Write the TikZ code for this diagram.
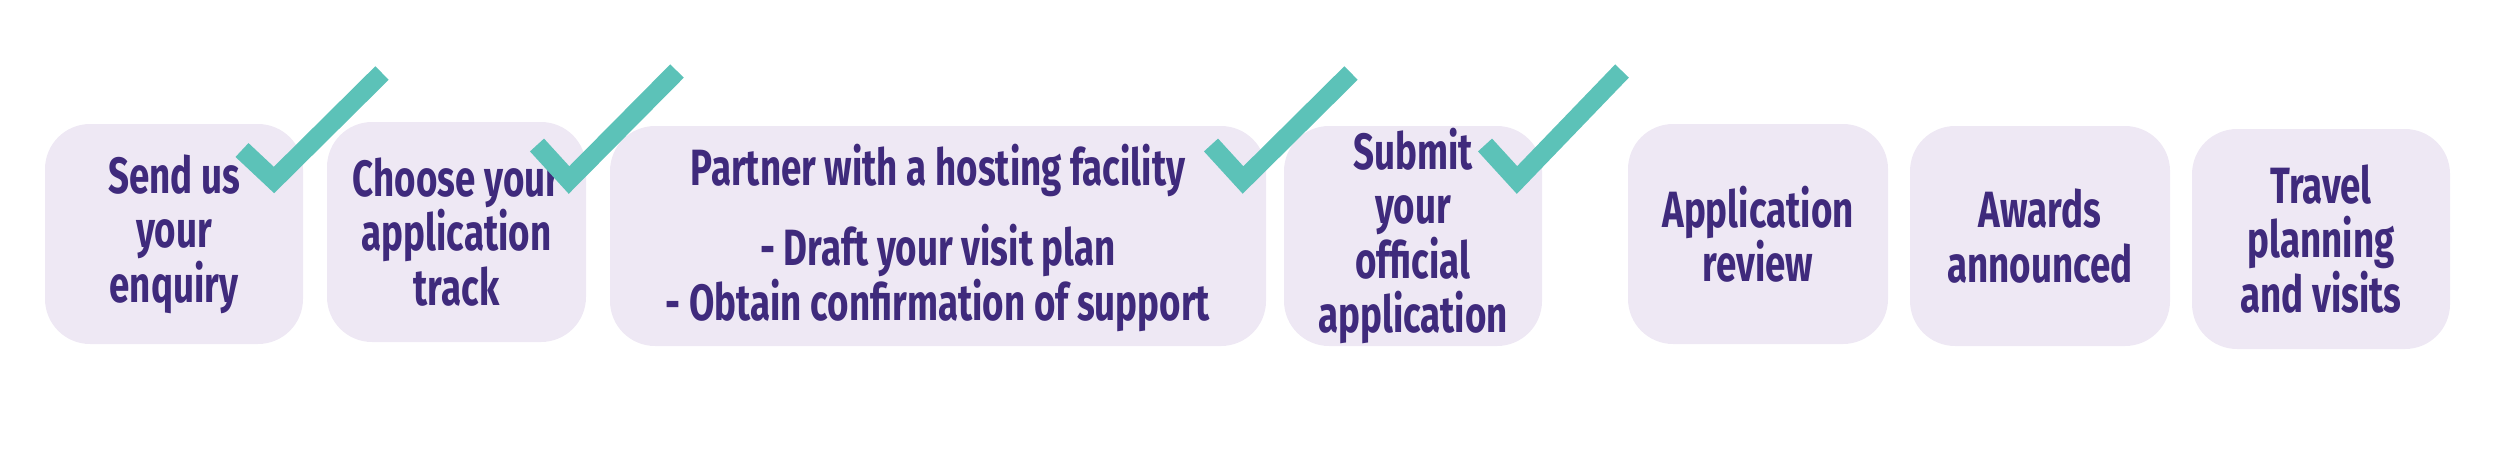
\documentclass[tikz,border=0pt]{standalone}
\usepackage{fontspec}
\setmainfont[FakeStretch=0.72]{Fira Sans}
\definecolor{boxfill}{HTML}{EEE8F4}
\definecolor{txt}{HTML}{3F2A7C}
\definecolor{tick}{HTML}{5CC2B8}
\begin{document}
\begin{tikzpicture}[x=0.01cm,y=-0.01cm,
  stepbox/.style={fill=boxfill,rounded corners=0.45cm},
  lbl/.style={text=txt,font=\bfseries\fontsize{14.5}{15.5}\selectfont,align=center},
  tickmark/.style={draw=tick,line width=0.19cm,miter limit=10}]
\useasboundingbox (0,0) rectangle (2498,454);
\foreach \n/\a/\b/\c/\d in {b1/45/124/303/344,b2/327/122/586/342,b3/610/126/1266/346,b4/1284/126/1542/346,b5/1628/124/1888/344,b6/1910/126/2170/346,b7/2192/129/2450/349}{
  \path[stepbox] (\a,\b) rectangle (\c,\d);
  \coordinate (\n) at ({(\a+\c)/2},{(\b+\d)/2});
}
\node[lbl] (t1) at (b1) {Send us\\your\\enquiry};
\node[lbl] (t2) at (b2) {Choose your\\application\\track};
\node[lbl] (t3) at ([yshift=-0.02cm]b3) {Partner with a hosting facility\\[0.5em]- Draft your visit plan\\- Obtain confirmation of support};
\node[lbl] (t4) at (b4) {Submit\\your\\official\\application};
\node[lbl] (t5) at (b5) {Application\\review};
\node[lbl] (t6) at (b6) {Awards\\announced};
\node[lbl] (t7) at (b7) {Travel\\planning\\and visits};
\coordinate (c1a) at (242,150); \coordinate (c1b) at (274,180); \coordinate (c1c) at (382,73);
\coordinate (c2a) at (537,145); \coordinate (c2b) at (569,180); \coordinate (c2c) at (677,71);
\coordinate (c3a) at (1211,145); \coordinate (c3b) at (1243,180); \coordinate (c3c) at (1351,73);
\coordinate (c4a) at (1485,145); \coordinate (c4b) at (1517,180); \coordinate (c4c) at (1622,71);
\foreach \i in {1,2,3,4}{\draw[tickmark] (c\i a) -- (c\i b) -- (c\i c);}
\end{tikzpicture}
\end{document}
